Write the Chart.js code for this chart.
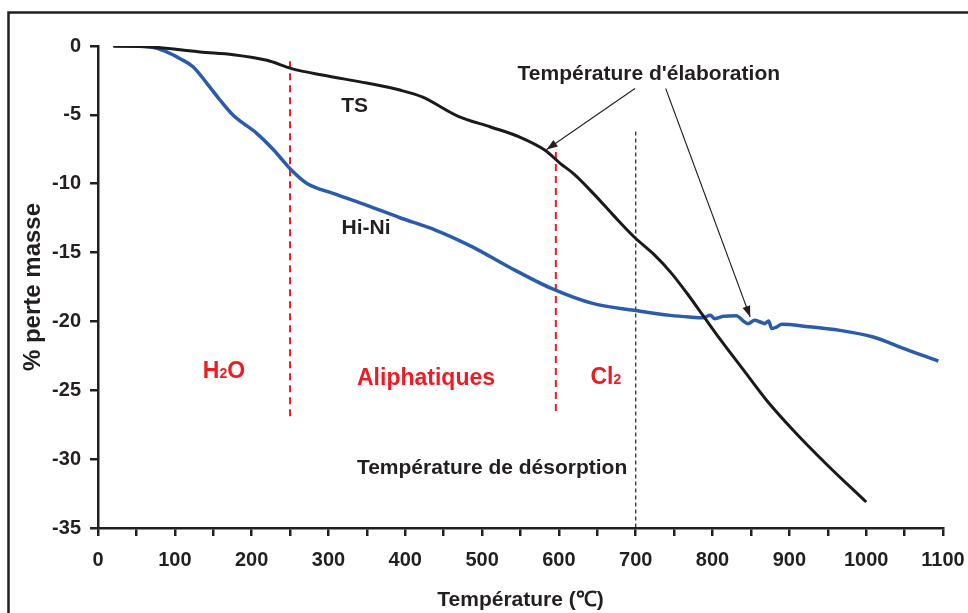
<!DOCTYPE html>
<html>
<head>
<meta charset="utf-8">
<title>ATG</title>
<script src="https://cdn.jsdelivr.net/npm/chart.js@4.4.1/dist/chart.umd.min.js"></script>
<style>
    body { margin: 0; background: #fff; }
    canvas { display: block; }
</style>
</head>
<body>
<canvas id="grafico" width="968" height="613"></canvas>
<script>
"use strict"

// courbe TS (noir)
const tsTemp = [20, 70, 133, 176, 220, 252, 294, 350, 393, 422, 469, 511, 549, 582, 602, 619, 645, 671, 698, 723, 745, 766, 788, 810, 840, 870, 905, 948, 1000];
const tsMasse = [0, -0.07, -0.44, -0.63, -1.04, -1.64, -2.13, -2.69, -3.2, -3.7, -5.11, -5.88, -6.61, -7.57, -8.54, -9.27, -10.72, -12.3, -13.87, -15.1, -16.4, -17.9, -19.6, -21.3, -23.5, -25.7, -27.9, -30.35, -33.11];

// courbe Hi-Ni (bleu)
const hiTemp = [20, 68, 90, 107, 124, 142, 159, 176, 207, 229, 252, 272, 307, 350, 393, 440, 488, 535, 591, 645, 698, 745, 770, 788, 797, 803, 814, 831, 840, 846, 855, 862, 868, 873, 877, 883, 890, 922, 966, 1009, 1031, 1044, 1094];
const hiMasse = [0, -0.07, -0.44, -0.92, -1.52, -2.73, -3.94, -5.03, -6.36, -7.57, -9.03, -9.99, -10.72, -11.57, -12.47, -13.38, -14.6, -16.05, -17.62, -18.71, -19.19, -19.56, -19.68, -19.73, -19.56, -19.8, -19.63, -19.58, -19.97, -20.16, -19.92, -20.04, -20.16, -19.97, -20.52, -20.41, -20.21, -20.36, -20.65, -21.13, -21.57, -21.86, -22.88];

// limites des zones (traits verticaux)
const zoneTemp = [250, 596];
const zoneHaut = [-1.1, -7.7];
const zoneBas = [-27, -26.5];
const desorpTemp = 700;
const desorpHaut = -6.2;

// flèches "Température d'élaboration" : départ -> pointe
const flecheDepart = [[699, -3.09], [739, -3.09]];
const flecheFin = [[584, -7.52], [849, -19.68]];

const xTicks = [0, 100, 200, 300, 400, 500, 600, 700, 800, 900, 1000, 1100];
const yTicks = [0, -5, -10, -15, -20, -25, -30, -35];

const NOIR = "#231f20";
const ROUGE = "#ed1c24";
const BLEU = "#2a5caa";
const POLICE = '"Liberation Sans", Arial, sans-serif';

// textes posés dans le graphique (coordonnées en unités des axes)
const textes = [
    { t: "Température d'élaboration", x: 717, y: -2.44, c: NOIR, s: 21 },
    { t: "TS", x: 334, y: -4.79, c: NOIR, s: 21 },
    { t: "Hi-Ni", x: 349, y: -13.62, c: NOIR, s: 21 },
    { t: "Température de désorption", x: 513, y: -31.11, c: NOIR, s: 21 },
    { t: "Aliphatiques", x: 427, y: -24.64, c: ROUGE, s: 23 },
    { t: ["H", "2", "O"], x: 164, y: -24.08, c: ROUGE, s: 23 },
    { t: ["Cl", "2", ""], x: 661, y: -24.52, c: ROUGE, s: 23 }
];

function points(xs, ys) {
    return xs.map((x, i) => ({ x: x, y: ys[i] }));
}

let datasets = [
    {
        data: points(tsTemp, tsMasse),
        borderColor: "#1a1a1a",
        borderWidth: 3,
        cubicInterpolationMode: "monotone"
    },
    {
        data: points(hiTemp, hiMasse),
        borderColor: BLEU,
        borderWidth: 3.5,
        cubicInterpolationMode: "monotone"
    }
];

for (let i = 0; i < zoneTemp.length; i++) {
    datasets.push({
        data: [{ x: zoneTemp[i], y: zoneHaut[i] }, { x: zoneTemp[i], y: zoneBas[i] }],
        borderColor: ROUGE,
        borderWidth: 2,
        borderDash: [7, 5]
    });
}
datasets.push({
    data: [{ x: desorpTemp, y: desorpHaut }, { x: desorpTemp, y: -35 }],
    borderColor: NOIR,
    borderWidth: 1.2,
    borderDash: [4, 3]
});
for (let i = 0; i < flecheDepart.length; i++) {
    datasets.push({
        data: [{ x: flecheDepart[i][0], y: flecheDepart[i][1] }, { x: flecheFin[i][0], y: flecheFin[i][1] }],
        borderColor: NOIR,
        borderWidth: 1.1
    });
}

const cadre = {
    id: "cadre",
    beforeDraw(chart) {
        let ctx = chart.ctx;
        ctx.save();
        ctx.fillStyle = "#fff";
        ctx.fillRect(0, 0, chart.width, chart.height);
        ctx.strokeStyle = NOIR;
        ctx.lineWidth = 2.5;
        ctx.beginPath();
        ctx.moveTo(8.5, chart.height);
        ctx.lineTo(8.5, 12.5);
        ctx.lineTo(chart.width, 12.5);
        ctx.stroke();
        ctx.restore();
    }
};

const annotations = {
    id: "annotations",
    afterDatasetsDraw(chart) {
        let ctx = chart.ctx;
        let sx = chart.scales.x;
        let sy = chart.scales.y;
        ctx.save();

        // pointes des flèches
        ctx.fillStyle = NOIR;
        for (let i = 0; i < flecheDepart.length; i++) {
            let x0 = sx.getPixelForValue(flecheDepart[i][0]);
            let y0 = sy.getPixelForValue(flecheDepart[i][1]);
            let x1 = sx.getPixelForValue(flecheFin[i][0]);
            let y1 = sy.getPixelForValue(flecheFin[i][1]);
            let a = Math.atan2(y1 - y0, x1 - x0);
            ctx.beginPath();
            ctx.moveTo(x1, y1);
            ctx.lineTo(x1 - 11 * Math.cos(a) + 4 * Math.sin(a), y1 - 11 * Math.sin(a) - 4 * Math.cos(a));
            ctx.lineTo(x1 - 11 * Math.cos(a) - 4 * Math.sin(a), y1 - 11 * Math.sin(a) + 4 * Math.cos(a));
            ctx.closePath();
            ctx.fill();
        }

        ctx.textBaseline = "alphabetic";
        for (const e of textes) {
            let px = sx.getPixelForValue(e.x);
            let py = sy.getPixelForValue(e.y);
            ctx.fillStyle = e.c;
            if (Array.isArray(e.t)) {
                // formule chimique avec indice
                let fGrand = "bold " + e.s + "px " + POLICE;
                let fPetit = "bold " + Math.round(e.s * 0.62) + "px " + POLICE;
                ctx.font = fGrand;
                let w0 = ctx.measureText(e.t[0]).width;
                let w2 = ctx.measureText(e.t[2]).width;
                ctx.font = fPetit;
                let w1 = ctx.measureText(e.t[1]).width;
                let x = px - (w0 + w1 + w2) / 2;
                ctx.textAlign = "left";
                ctx.font = fGrand;
                ctx.fillText(e.t[0], x, py);
                ctx.font = fPetit;
                ctx.fillText(e.t[1], x + w0, py);
                ctx.font = fGrand;
                ctx.fillText(e.t[2], x + w0 + w1, py);
            } else {
                ctx.font = "bold " + e.s + "px " + POLICE;
                ctx.textAlign = "center";
                ctx.fillText(e.t, px, py);
            }
        }
        ctx.restore();
    }
};

Chart.defaults.font.family = POLICE;
Chart.defaults.color = NOIR;

let chart = new Chart(document.getElementById("grafico"), {
    type: "line",
    data: { datasets: datasets },
    plugins: [cadre, annotations],
    options: {
        responsive: false,
        animation: false,
        events: [],
        layout: { padding: { left: 0, top: 46, right: 25, bottom: 0 } },
        elements: { point: { radius: 0 } },
        plugins: {
            legend: { display: false },
            tooltip: { enabled: false }
        },
        scales: {
            x: {
                type: "linear",
                min: 0,
                max: 1100,
                afterFit(scale) {
                    scale.height = 85;
                    scale.paddingLeft = 0;
                    scale.paddingRight = 0;
                },
                border: { color: NOIR, width: 2.5 },
                grid: { drawOnChartArea: false, drawTicks: true, tickLength: 8, color: NOIR, lineWidth: 2.5 },
                ticks: {
                    stepSize: 50,
                    autoSkip: false,
                    maxRotation: 0,
                    padding: 12,
                    color: NOIR,
                    font: { size: 20, weight: "bold" },
                    callback: (v) => xTicks.includes(v) ? String(v) : ""
                },
                title: {
                    display: true,
                    text: "Température (℃)",
                    color: NOIR,
                    font: { size: 21, weight: "bold" },
                    padding: { top: 9, bottom: 0 }
                }
            },
            y: {
                min: -35,
                max: 0,
                afterFit(scale) { scale.width = 98; },
                border: { color: NOIR, width: 2.5 },
                grid: { drawOnChartArea: false, drawTicks: true, tickLength: 8, color: NOIR, lineWidth: 2.5 },
                ticks: {
                    stepSize: 5,
                    padding: 9,
                    color: NOIR,
                    font: { size: 20, weight: "bold" },
                    callback: (v) => yTicks.includes(v) ? String(v) : ""
                },
                title: {
                    display: true,
                    text: "% perte masse",
                    color: NOIR,
                    font: { size: 24, weight: "bold" },
                    padding: { top: 19, bottom: 0 }
                }
            }
        }
    }
});
</script>
</body>
</html>
